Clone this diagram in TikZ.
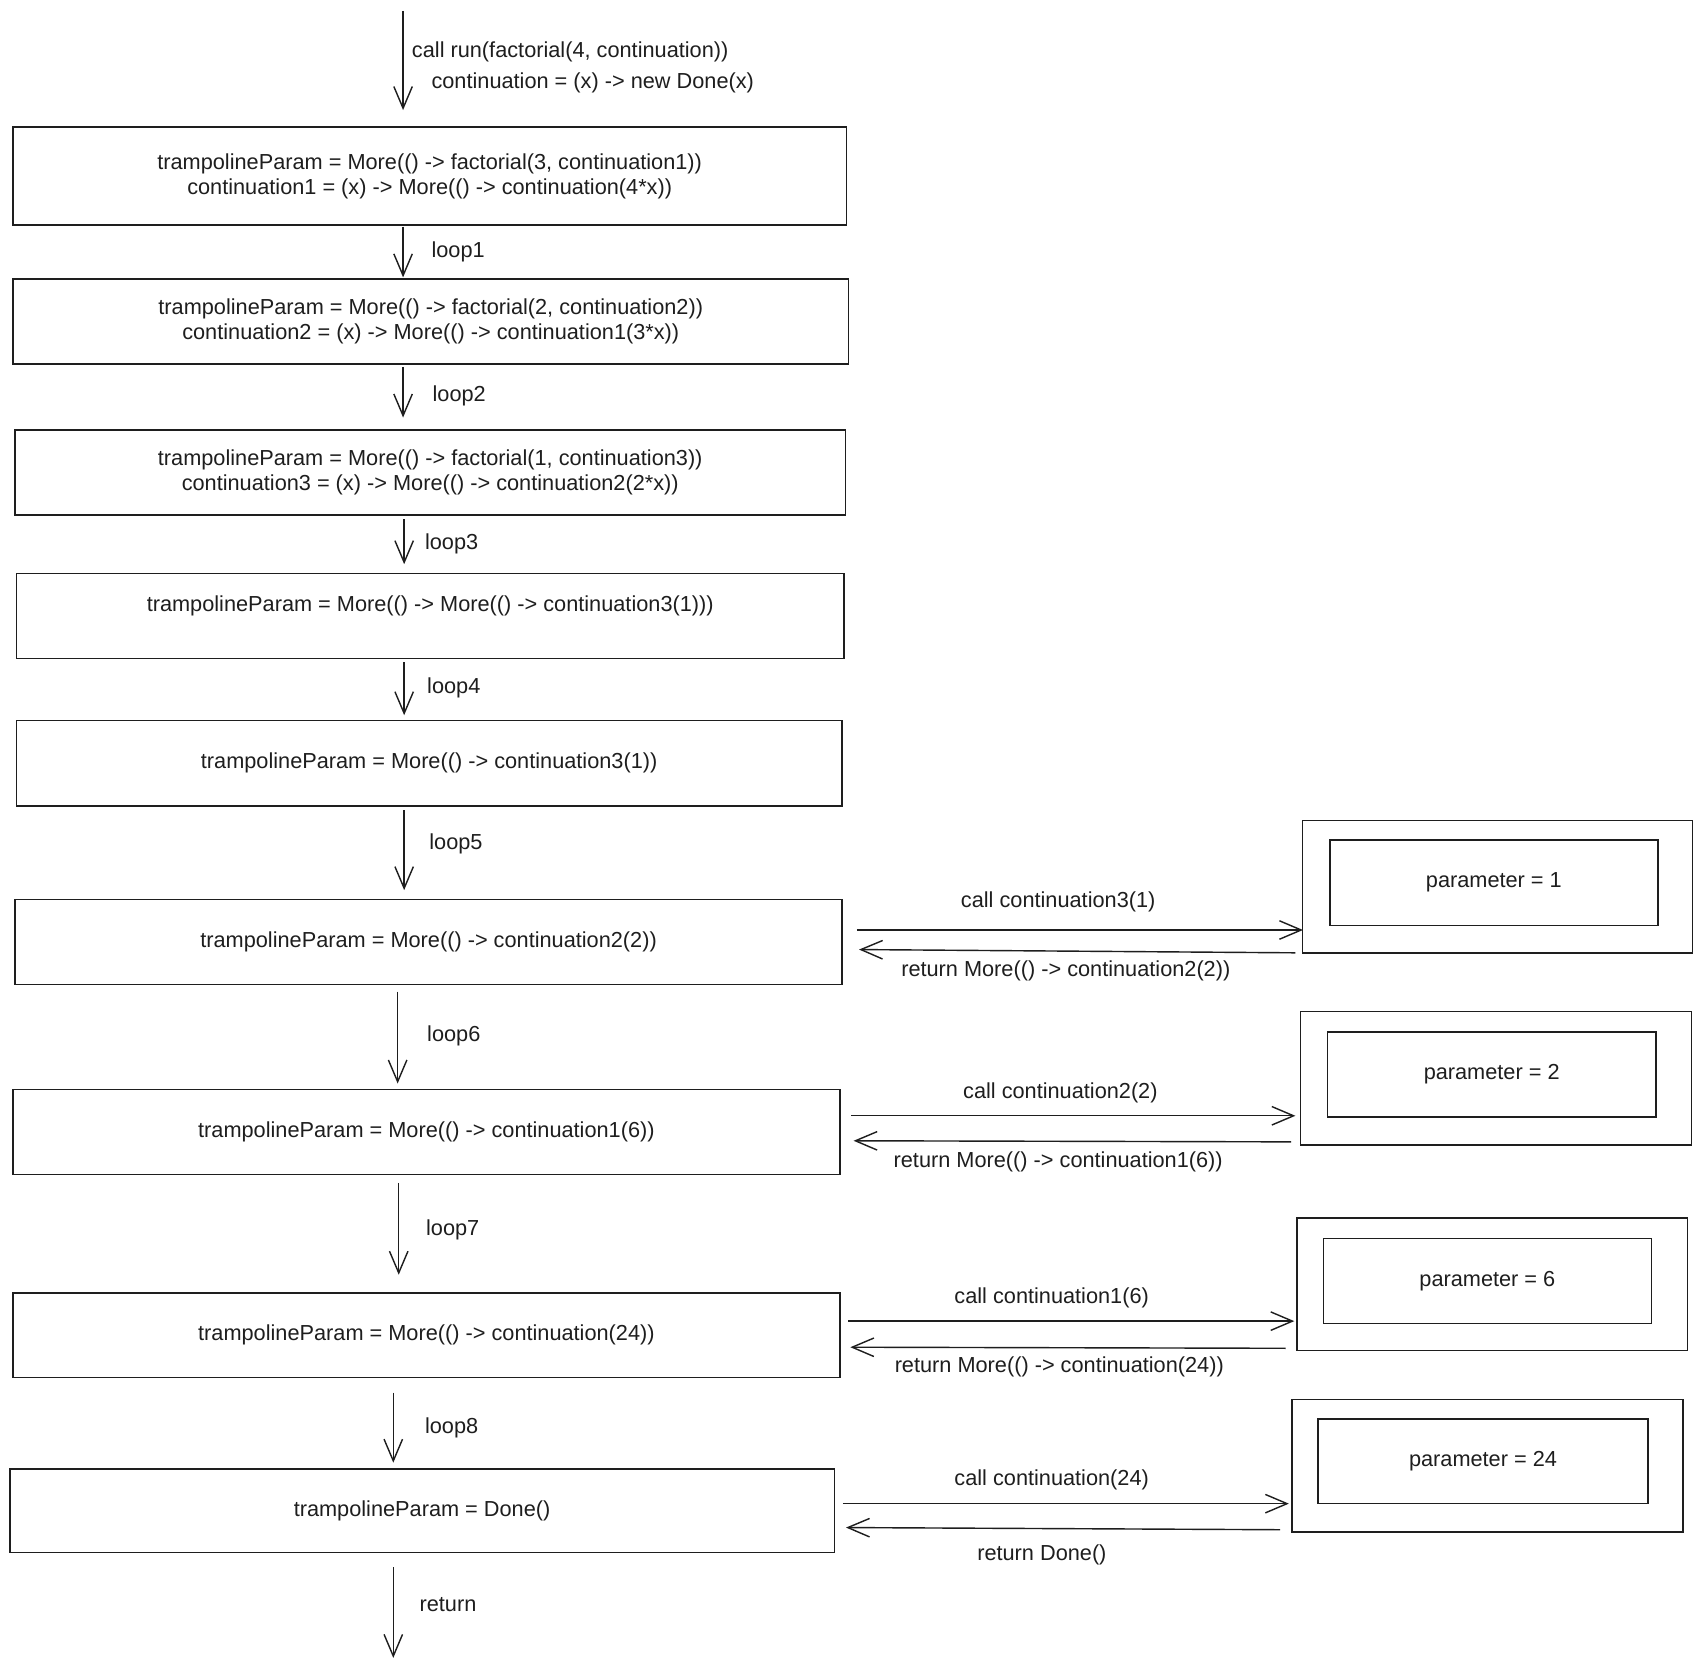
\documentclass[tikz,border=0pt]{standalone}
\usepackage{fontspec}
\setmainfont{Liberation Sans}
\usetikzlibrary{arrows.meta,calc}
\definecolor{ink}{HTML}{1E1E1E}
\newcommand{\txtf}{\fontsize{20}{23}\selectfont}
\tikzset{
  box/.style={draw=ink, line width=1.4pt, inner sep=0pt, align=center, font=\txtf, text=ink},
  arr/.style={draw=ink, line width=1.3pt, -{Straight Barb[length=20pt,width=17pt,line width=1.3pt]}},
  lbl/.style={font=\txtf, text=ink, inner sep=0pt},
}
\begin{document}
\begin{tikzpicture}[x=1pt,y=-1pt]
\useasboundingbox[fill=white] (0,0) rectangle (1567.5,1536.2);

% main boxes
\node[box, minimum width=767, minimum height=90] (b1) at (395.5,162)
  {trampolineParam = More(() -> factorial(3, continuation1))\\continuation1 = (x) -> More(() -> continuation(4*x))};
\node[box, minimum width=769, minimum height=78] (b2) at (396.5,296)
  {trampolineParam = More(() -> factorial(2, continuation2))\\continuation2 = (x) -> More(() -> continuation1(3*x))};
\node[box, minimum width=764, minimum height=78] (b3) at (396,435)
  {trampolineParam = More(() -> factorial(1, continuation3))\\continuation3 = (x) -> More(() -> continuation2(2*x))};
\node[box, minimum width=762, minimum height=78] (b4) at (396,567)
  {trampolineParam = More(() -> More(() -> continuation3(1)))\\[0pt]\mbox{}};
\node[box, minimum width=760, minimum height=79] (b5) at (395,702.5)
  {trampolineParam = More(() -> continuation3(1))};
\node[box, minimum width=761, minimum height=78] (b6) at (394.5,867)
  {trampolineParam = More(() -> continuation2(2))};
\node[box, minimum width=761, minimum height=78] (b7) at (392.5,1042)
  {trampolineParam = More(() -> continuation1(6))};
\node[box, minimum width=761, minimum height=78] (b8) at (392.5,1229)
  {trampolineParam = More(() -> continuation(24))};
\node[box, minimum width=759, minimum height=77] (b9) at (388.5,1390.5)
  {trampolineParam = Done()};

% right boxes
\node[box, minimum width=359, minimum height=122] (p1) at (1378.5,816) {};
\node[box, minimum width=302, minimum height=79] (q1) at (1375,812.5) {parameter = 1};
\node[box, minimum width=360, minimum height=123] (p2) at (1377,992.5) {};
\node[box, minimum width=302, minimum height=78] (q2) at (1373,989) {parameter = 2};
\node[box, minimum width=359, minimum height=122] (p3) at (1373.5,1182) {};
\node[box, minimum width=302, minimum height=78] (q3) at (1369,1179) {parameter = 6};
\node[box, minimum width=360, minimum height=122] (p4) at (1369,1349) {};
\node[box, minimum width=304, minimum height=78] (q4) at (1365,1345) {parameter = 24};

% top entry
\coordinate (top) at (371,10);
\coordinate (bottom) at (362,1526);
\draw[arr] (top) -- ($(b1.north -| top)+(0,-15)$);
\node[lbl, anchor=west] (t1) at (379,48) {call run(factorial(4, continuation))};
\node[lbl, anchor=west] (t2) at (397,76) {continuation = (x) -> new Done(x)};

% loops
\draw[arr] ($(b1.south)+(-24.5,1)$) -- ($(b2.north)+(-25.5,-1)$);
\node[lbl, anchor=west] (l1) at (397,232) {loop1};
\draw[arr] ($(b2.south)+(-25.5,2)$) -- ($(b3.north)+(-25,-11)$);
\node[lbl, anchor=west] (l2) at (398,364) {loop2};
\draw[arr] ($(b3.south)+(-24,3)$) -- ($(b4.north)+(-24,-8)$);
\node[lbl, anchor=west] (l3) at (391,501) {loop3};
\draw[arr] ($(b4.south)+(-24,3)$) -- ($(b5.north)+(-23,-4)$);
\node[lbl, anchor=west] (l4) at (393,633) {loop4};
\draw[arr] ($(b5.south)+(-23,3)$) -- ($(b6.north)+(-22.5,-8)$);
\node[lbl, anchor=west] (l5) at (395,777) {loop5};
\draw[arr] ($(b6.south)+(-28.5,6)$) -- ($(b7.north)+(-26.5,-5)$);
\node[lbl, anchor=west] (l6) at (393,953) {loop6};
\draw[arr] ($(b7.south)+(-25.5,7)$) -- ($(b8.north)+(-25.5,-16)$);
\node[lbl, anchor=west] (l7) at (392,1132) {loop7};
\draw[arr] ($(b8.south)+(-30.5,13)$) -- ($(b9.north)+(-26.5,-5)$);
\node[lbl, anchor=west] (l8) at (391,1314) {loop8};
\draw[arr] ($(b9.south)+(-26.5,13)$) -- (bottom);
\node[lbl, anchor=west] (l9) at (386,1477) {return};

% calls and returns
\draw[arr] ($(b6.east)+(13,-11)$) -- ($(p1.west)+(1,40)$);
\draw[arr] ($(p1.west)+(-6,61)$) -- ($(b6.east)+(15,7)$);
\node[lbl] (c1) at (974,830) {call continuation3(1)};
\node[lbl] (r1) at (981,894) {return More(() -> continuation2(2))};

\draw[arr] ($(b7.east)+(10,-15)$) -- ($(p2.west)+(-4,34.5)$);
\draw[arr] ($(p2.west)+(-8,58.5)$) -- ($(b7.east)+(12,8)$);
\node[lbl] (c2) at (976,1006) {call continuation2(2)};
\node[lbl] (r2) at (974,1069) {return More(() -> continuation1(6))};

\draw[arr] ($(b8.east)+(7,-13)$) -- ($(p3.west)+(-2,34)$);
\draw[arr] ($(p3.west)+(-10,59)$) -- ($(b8.east)+(9,11)$);
\node[lbl] (c3) at (968,1195) {call continuation1(6)};
\node[lbl] (r3) at (975,1258) {return More(() -> continuation(24))};

\draw[arr] ($(b9.east)+(7,-6.5)$) -- ($(p4.west)+(-2,35)$);
\draw[arr] ($(p4.west)+(-10,59)$) -- ($(b9.east)+(10,15.5)$);
\node[lbl] (c4) at (968,1362) {call continuation(24)};
\node[lbl] (r4) at (959,1431) {return Done()};
\end{tikzpicture}
\end{document}
